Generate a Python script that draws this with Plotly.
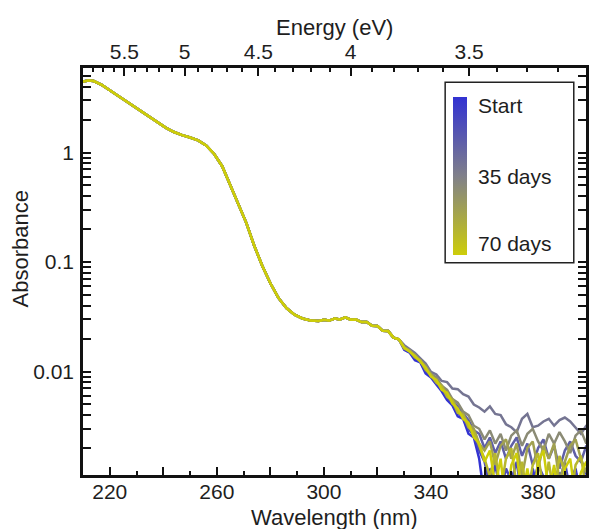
import plotly.graph_objects as go

# ---------------- data ----------------
head_wl = [210, 212, 214, 217, 220, 223, 226, 229, 232, 235, 238, 241, 244, 247, 250,
           253, 256, 259, 262, 265, 268, 271, 274, 277, 280, 283, 286, 289, 292, 295,
           298, 300, 302, 304, 306, 308, 310, 312, 314, 316, 318, 320, 322, 324, 326, 328]
head_abs = [4.45, 4.55, 4.50, 4.15, 3.70, 3.30, 2.95, 2.65, 2.38, 2.12, 1.88, 1.68, 1.54, 1.44, 1.37,
            1.29, 1.16, 0.97, 0.75, 0.50, 0.33, 0.228, 0.14, 0.092, 0.064, 0.047, 0.038, 0.0330, 0.0305, 0.0293,
            0.0290, 0.0297, 0.0292, 0.0305, 0.0299, 0.0312, 0.0297, 0.0298, 0.0283, 0.0283, 0.0262, 0.0260,
            0.0235, 0.0234, 0.0204, 0.0197]

tail_wl = [330, 332, 334, 336, 338, 340, 342, 344, 346, 348, 350, 352, 354, 356, 358, 360, 362, 364,
           366, 368, 370, 372, 374, 376, 378, 380, 382, 384, 386, 388, 390, 392, 394, 396, 398, 400]

tail_day0 = [0.0158, 0.0149, 0.0127, 0.0121, 0.0096, 0.0088, 0.0076, 0.0066, 0.0055, 0.0049, 0.0039, 0.0037,
             0.0027, 0.0025, 0.0016, 0.0007, 0.0013, 0.0006, 0.0011, 0.0008, 0.0012, 0.0006, 0.0010, 0.0007,
             0.0013, 0.0008, 0.0006, 0.0011, 0.0007, 0.0012, 0.0006, 0.0010, 0.0013, 0.0007, 0.0009, 0.0006]
tail_day10 = [0.0163, 0.0155, 0.0133, 0.0124, 0.0101, 0.0092, 0.0078, 0.0070, 0.0058, 0.0051, 0.0042, 0.0038,
              0.0030, 0.0026, 0.0019, 0.0015, 0.0009, 0.0014, 0.0008, 0.0013, 0.0010, 0.0015, 0.0007, 0.0012,
              0.0009, 0.0014, 0.0011, 0.0007, 0.0013, 0.0010, 0.0015, 0.0008, 0.0012, 0.0009, 0.0013, 0.0011]
tail_day20 = [0.0168, 0.0157, 0.0141, 0.0127, 0.0111, 0.0093, 0.0086, 0.0071, 0.0065, 0.0054, 0.0048, 0.0041,
              0.0036, 0.0029, 0.0027, 0.0020, 0.0025, 0.0018, 0.0023, 0.0016, 0.0021, 0.0025, 0.0017, 0.0022,
              0.0014, 0.0020, 0.0024, 0.0016, 0.0021, 0.0013, 0.0019, 0.0023, 0.0017, 0.0015, 0.0021, 0.0018]
tail_day30 = [0.0174, 0.0160, 0.0148, 0.0132, 0.0118, 0.0099, 0.0094, 0.0082, 0.0080, 0.0070, 0.0069, 0.0062,
              0.0059, 0.0050, 0.0047, 0.0043, 0.0048, 0.0041, 0.0040, 0.0033, 0.0031, 0.0028, 0.0037, 0.0041,
              0.0031, 0.0032, 0.0035, 0.0037, 0.0032, 0.0036, 0.0038, 0.0035, 0.0031, 0.0027, 0.0032, 0.0034]
tail_day40 = [0.0167, 0.0155, 0.0143, 0.0125, 0.0114, 0.0095, 0.0089, 0.0074, 0.0068, 0.0056, 0.0052, 0.0043,
              0.0040, 0.0032, 0.0030, 0.0024, 0.0029, 0.0022, 0.0027, 0.0019, 0.0026, 0.0029, 0.0021, 0.0027,
              0.0030, 0.0023, 0.0019, 0.0027, 0.0022, 0.0028, 0.0023, 0.0018, 0.0026, 0.0029, 0.0022, 0.0027]
tail_day50 = [0.0164, 0.0156, 0.0136, 0.0127, 0.0106, 0.0095, 0.0082, 0.0075, 0.0061, 0.0056, 0.0044, 0.0041,
              0.0033, 0.0030, 0.0022, 0.0019, 0.0023, 0.0014, 0.0021, 0.0024, 0.0016, 0.0022, 0.0011, 0.0020,
              0.0023, 0.0013, 0.0021, 0.0016, 0.0022, 0.0010, 0.0015, 0.0021, 0.0024, 0.0016, 0.0012, 0.0020]
tail_day60 = [0.0162, 0.0153, 0.0135, 0.0126, 0.0104, 0.0093, 0.0079, 0.0073, 0.0059, 0.0054, 0.0042, 0.0040,
              0.0031, 0.0028, 0.0021, 0.0016, 0.0011, 0.0018, 0.0008, 0.0016, 0.0020, 0.0009, 0.0015, 0.0007,
              0.0014, 0.0018, 0.0008, 0.0015, 0.0007, 0.0017, 0.0012, 0.0006, 0.0014, 0.0017, 0.0008, 0.0013]
tail_day70 = [0.0166, 0.0151, 0.0139, 0.0123, 0.0109, 0.0090, 0.0084, 0.0068, 0.0064, 0.0051, 0.0046, 0.0037,
              0.0034, 0.0025, 0.0022, 0.0015, 0.0019, 0.0009, 0.0016, 0.0006, 0.0014, 0.0018, 0.0007, 0.0013,
              0.0006, 0.0015, 0.0019, 0.0008, 0.0014, 0.0006, 0.0013, 0.0016, 0.0007, 0.0012, 0.0015, 0.0008]

days = [0, 10, 20, 30, 40, 50, 60, 70]
tails = [tail_day0, tail_day10, tail_day20, tail_day30, tail_day40, tail_day50, tail_day60, tail_day70]
colors = ["#3232d2", "#4848bd", "#5f5fa7", "#757592", "#8b8b75", "#a1a151", "#b7b72e", "#cdcd0a"]

x_tick_vals = [220, 240, 260, 280, 300, 320, 340, 360, 380]
x_tick_text = ["220", "", "260", "", "300", "", "340", "", "380"]
x_minor_vals = [210, 230, 250, 270, 290, 310, 330, 350, 370, 390]

energy_major = [5.5, 5.0, 4.5, 4.0, 3.5]
energy_labels = ["5.5", "5", "4.5", "4", "3.5"]
energy_minor = [5.9, 5.8, 5.7, 5.6, 5.4, 5.3, 5.2, 5.1, 4.9, 4.8, 4.7, 4.6, 4.4, 4.3, 4.2, 4.1,
                3.9, 3.8, 3.7, 3.6, 3.4, 3.3, 3.2, 3.1]
HC = 1239.84  # eV*nm

y_tick_vals = [0.01, 0.1, 1]
y_tick_text = ["0.01", "0.1", "1"]
y_minor_vals = [0.002, 0.003, 0.004, 0.005, 0.006, 0.007, 0.008, 0.009,
                0.02, 0.03, 0.04, 0.05, 0.06, 0.07, 0.08, 0.09,
                0.2, 0.3, 0.4, 0.5, 0.6, 0.7, 0.8, 0.9, 2, 3, 4, 5]

# ---------------- figure ----------------
FONT = "Liberation Sans, Arial, sans-serif"
TXT = "#1e1e1e"
XR = [210, 397.9]
YR = [-2.945, 0.772]

fig = go.Figure()
for d, t, c in zip(days, tails, colors):
    fig.add_trace(go.Scatter(x=head_wl + tail_wl, y=head_abs + t, mode="lines",
                             line=dict(color=c, width=2.5), name=f"{d} days",
                             showlegend=False, hoverinfo="skip"))

# invisible trace for top energy axis
fig.add_trace(go.Scatter(x=[XR[0]], y=[1e-6], xaxis="x2", mode="markers",
                         marker=dict(opacity=0), showlegend=False, hoverinfo="skip"))

# gradient bar (legend)
fig.add_trace(go.Scatter(
    x=[300, 300], y=[1e-6, 1e-6], mode="markers", showlegend=False, hoverinfo="skip",
    marker=dict(opacity=0, color=[0, 1], cmin=0, cmax=1,
                colorscale=[[0, "#cdcd0a"], [0.5, "#80808a"], [1, "#3232d2"]],
                showscale=True,
                colorbar=dict(thickness=14, thicknessmode="pixels", len=158, lenmode="pixels",
                              x=0.7352, xanchor="left", y=0.7351, yanchor="middle",
                              xpad=0, ypad=0, outlinewidth=0, showticklabels=False, ticks=""))))

axis_common = dict(showline=True, linecolor="#111", linewidth=2.5, ticks="inside",
                   tickcolor="#111", tickwidth=2, ticklen=8, showgrid=False, zeroline=False,
                   tickfont=dict(family=FONT, size=21, color=TXT))

fig.update_layout(
    width=590, height=529,
    margin=dict(l=83, r=1, t=68, b=54),
    paper_bgcolor="white", plot_bgcolor="white",
    font=dict(family=FONT, size=21, color=TXT),
    xaxis=dict(range=XR, tickmode="array", tickvals=x_tick_vals, ticktext=x_tick_text,
               minor=dict(tickmode="array", tickvals=x_minor_vals, ticks="inside", ticklen=4,
                          tickwidth=2, tickcolor="#111"),
               ticklabelstandoff=-4, **axis_common),
    xaxis2=dict(range=XR, overlaying="x", side="top", anchor="y", tickmode="array",
                tickvals=[HC / e for e in energy_major], ticktext=energy_labels,
                minor=dict(tickmode="array", tickvals=[HC / e for e in energy_minor], ticks="inside",
                           ticklen=4, tickwidth=2, tickcolor="#111"),
                ticklabelstandoff=-2, **axis_common),
    yaxis=dict(type="log", range=YR, tickmode="array", tickvals=y_tick_vals, ticktext=y_tick_text,
               minor=dict(tickmode="array", tickvals=y_minor_vals, ticks="inside", ticklen=4,
                          tickwidth=2, tickcolor="#111"),
               mirror="allticks", ticklabelstandoff=2, **axis_common),
    shapes=[dict(type="rect", xref="paper", yref="paper", x0=0.72, x1=0.9757, y0=0.5216, y1=0.9649,
                 line=dict(color="#222", width=1.5), fillcolor="rgba(255,255,255,0)", layer="above")],
    annotations=[
        dict(text="Start", xref="paper", yref="paper", x=0.7806, y=0.909, xanchor="left",
             yanchor="middle", showarrow=False, font=dict(family=FONT, size=21, color=TXT)),
        dict(text="35 days", xref="paper", yref="paper", x=0.7806, y=0.7346, xanchor="left",
             yanchor="middle", showarrow=False, font=dict(family=FONT, size=21, color=TXT)),
        dict(text="70 days", xref="paper", yref="paper", x=0.7806, y=0.5693, xanchor="left",
             yanchor="middle", showarrow=False, font=dict(family=FONT, size=21, color=TXT)),
        dict(text="Wavelength (nm)", xref="paper", yref="paper", x=0.5, y=-0.1032,
             xanchor="center", yanchor="middle", showarrow=False,
             font=dict(family=FONT, size=22, color=TXT)),
        dict(text="Energy (eV)", xref="paper", yref="paper", x=0.5, y=1.0983,
             xanchor="center", yanchor="middle", showarrow=False,
             font=dict(family=FONT, size=22, color=TXT)),
        dict(text="Absorbance", xref="paper", yref="paper", x=-0.1225, y=0.5553, textangle=-90,
             xanchor="center", yanchor="middle", showarrow=False,
             font=dict(family=FONT, size=22, color=TXT)),
    ],
)

fig.write_html("out.html")
